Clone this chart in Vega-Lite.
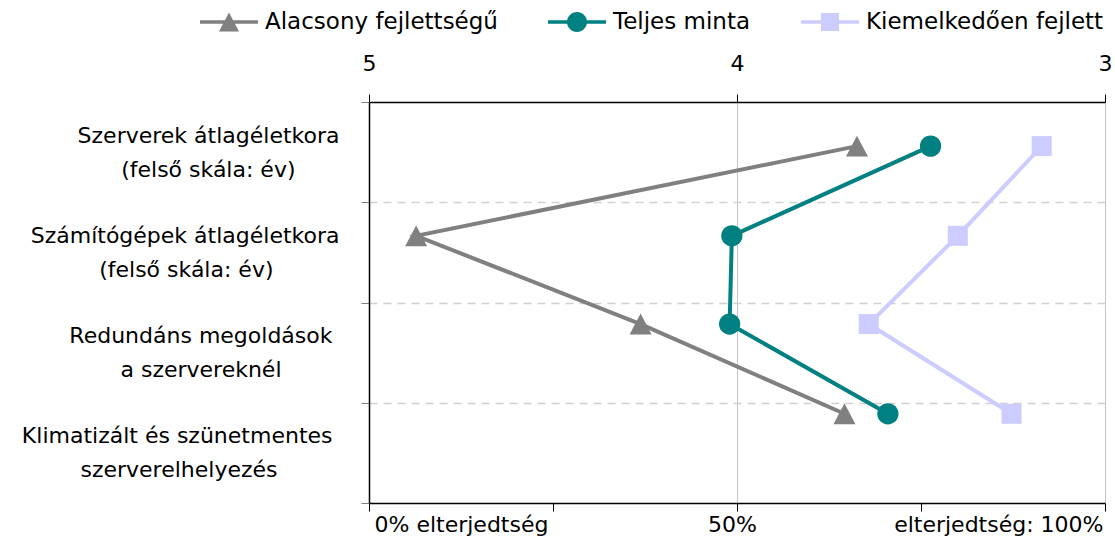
{
  "$schema": "https://vega.github.io/schema/vega-lite/v6.json",
  "width": 736,
  "height": 401,
  "autosize": {"type": "none"},
  "padding": {"left": 369, "top": 102, "right": 10, "bottom": 43},
  "background": "white",
  "config": {
    "view": {"stroke": null},
    "font": "DejaVu Sans",
    "axis": {"labelFont": "DejaVu Sans", "labelFontSize": 22, "labelColor": "#000000", "domainColor": "#000000", "tickColor": "#000000", "title": null, "labelLimit": 600, "labelOverlap": false},
    "legend": {"labelFont": "DejaVu Sans", "labelFontSize": 23, "labelColor": "#000000", "labelLimit": 600, "symbolSize": 3364, "symbolStrokeWidth": 0, "symbolOpacity": 1, "labelOffset": 7, "columnPadding": 50, "padding": 0}
  },
  "data": {
    "values": [
      {"series": "Alacsony fejlettségű", "pos": 0.44, "pct": 66.3},
      {"series": "Alacsony fejlettségű", "pos": 1.335, "pct": 6.4},
      {"series": "Alacsony fejlettségű", "pos": 2.215, "pct": 36.9},
      {"series": "Alacsony fejlettségű", "pos": 3.11, "pct": 64.6},
      {"series": "Teljes minta", "pos": 0.44, "pct": 76.3},
      {"series": "Teljes minta", "pos": 1.335, "pct": 49.3},
      {"series": "Teljes minta", "pos": 2.215, "pct": 49.0},
      {"series": "Teljes minta", "pos": 3.11, "pct": 70.5},
      {"series": "Kiemelkedően fejlett", "pos": 0.44, "pct": 91.4},
      {"series": "Kiemelkedően fejlett", "pos": 1.335, "pct": 80.0},
      {"series": "Kiemelkedően fejlett", "pos": 2.215, "pct": 67.9},
      {"series": "Kiemelkedően fejlett", "pos": 3.11, "pct": 87.3}
    ]
  },
  "layer": [
    {
      "layer": [
        {
          "transform": [{"filter": "datum.series == 'Alacsony fejlettségű'"}],
          "mark": {"type": "line", "strokeWidth": 4, "color": "#808080"},
          "encoding": {
            "x": {
              "field": "pct", "type": "quantitative",
              "scale": {"domain": [0, 100], "nice": false, "zero": false},
              "axis": {
                "orient": "bottom",
                "values": [0, 25, 50, 75, 100],
                "labelExpr": "datum.value == 0 ? '0% elterjedtség' : datum.value == 50 ? '50%' : datum.value == 100 ? 'elterjedtség: 100%' : ''",
                "labelFlush": false,
                "labelAlign": {"condition": [{"test": "datum.value == 0", "value": "left"}, {"test": "datum.value == 100", "value": "right"}], "value": "center"},
                "labelOffset": {"condition": [{"test": "datum.value == 0", "value": 5}, {"test": "datum.value == 100", "value": -2}], "value": -5},
                "labelPadding": 3,
                "tickSize": 8,
                "domainWidth": 1.5,
                "grid": true,
                "gridColor": "#c4c4c4",
                "gridWidth": 1,
                "gridOpacity": {"condition": {"test": "datum.value == 50 || datum.value == 100", "value": 1}, "value": 0}
              }
            },
            "y": {
              "field": "pos", "type": "quantitative",
              "scale": {"domain": [0, 4], "reverse": true, "nice": false, "zero": false},
              "axis": {
                "orient": "left",
                "values": [0, 1, 2, 3, 4],
                "labelExpr": "datum.value == 0 ? ['Szerverek átlagéletkora', '(felső skála: év)\u2002\u2002\u2002\u2002\u200b'] : datum.value == 1 ? ['Számítógépek átlagéletkora', '(felső skála: év)\u2002\u2002\u2002\u2002\u2002\u2002\u200b'] : datum.value == 2 ? ['Redundáns megoldások\u00a0\u200b', 'a szervereknél\u2002\u2002\u2002\u2002\u00a0\u00a0\u200b'] : datum.value == 3 ? ['Klimatizált és szünetmentes\u00a0\u200b', 'szerverelhelyezés\u2002\u2002\u2002\u2002\u2002\u00a0\u200b'] : ''",
                "labelAlign": "right",
                "labelBaseline": "middle",
                "labelLineHeight": 34,
                "labelOffset": 33,
                "labelFlush": false,
                "labelPadding": 22,
                "tickSize": 8,
                "tickColor": "#808080",
                "domainWidth": 1.5,
                "grid": true,
                "gridColor": "#d0d0d0",
                "gridWidth": 1.5,
                "gridDash": [8, 6],
                "gridOpacity": {"condition": {"test": "datum.value == 0 || datum.value == 4", "value": 0}, "value": 1}
              }
            },
            "order": {"field": "pos", "type": "quantitative"}
          }
        },
        {
          "transform": [{"filter": "datum.series == 'Teljes minta'"}],
          "mark": {"type": "line", "strokeWidth": 4, "color": "#008080"},
          "encoding": {
            "x": {"field": "pct", "type": "quantitative"},
            "y": {"field": "pos", "type": "quantitative"},
            "order": {"field": "pos", "type": "quantitative"}
          }
        },
        {
          "transform": [{"filter": "datum.series == 'Kiemelkedően fejlett'"}],
          "mark": {"type": "line", "strokeWidth": 4, "color": "#ccccff"},
          "encoding": {
            "x": {"field": "pct", "type": "quantitative"},
            "y": {"field": "pos", "type": "quantitative"},
            "order": {"field": "pos", "type": "quantitative"}
          }
        },
        {
          "transform": [{"filter": "datum.series == 'Alacsony fejlettségű'"}],
          "mark": {"type": "point", "filled": true, "opacity": 1, "shape": "M0,-0.95L1,0.95L-1,0.95Z", "size": 484, "color": "#808080", "strokeWidth": 0},
          "encoding": {
            "x": {"field": "pct", "type": "quantitative"},
            "y": {"field": "pos", "type": "quantitative"}
          }
        },
        {
          "transform": [{"filter": "datum.series == 'Teljes minta'"}],
          "mark": {"type": "point", "filled": true, "opacity": 1, "shape": "circle", "size": 452, "color": "#008080", "strokeWidth": 0},
          "encoding": {
            "x": {"field": "pct", "type": "quantitative"},
            "y": {"field": "pos", "type": "quantitative"}
          }
        },
        {
          "transform": [{"filter": "datum.series == 'Kiemelkedően fejlett'"}],
          "mark": {"type": "point", "filled": true, "opacity": 1, "shape": "square", "size": 400, "color": "#ccccff", "strokeWidth": 0},
          "encoding": {
            "x": {"field": "pct", "type": "quantitative"},
            "y": {"field": "pos", "type": "quantitative"}
          }
        }
      ]
    },
    {
      "mark": {"type": "point", "filled": true, "opacity": 0, "size": 3364},
      "encoding": {
        "x": {
          "field": "pct", "type": "quantitative",
          "axis": {
            "orient": "top",
            "values": [0, 50, 100],
            "labelExpr": "datum.value == 0 ? '5' : datum.value == 50 ? '4' : '3'",
            "labelFlush": false,
            "labelPadding": 19,
            "tickSize": 8,
            "domainWidth": 1.5,
            "grid": false
          }
        },
        "color": {
          "field": "series", "type": "nominal",
          "scale": {"domain": ["Alacsony fejlettségű", "Teljes minta", "Kiemelkedően fejlett"], "range": ["#808080", "#008080", "#ccccff"]},
          "legend": {"orient": "none", "direction": "horizontal", "legendX": -169, "legendY": -109, "title": null}
        },
        "shape": {
          "field": "series", "type": "nominal",
          "scale": {"domain": ["Alacsony fejlettségű", "Teljes minta", "Kiemelkedően fejlett"], "range": [
            "M-1,-0.057H1V0.057H-1Z M-0.345,0.33L0,-0.33L0.345,0.33Z",
            "M-1,-0.057H1V0.057H-1Z M-0.345,0A0.345,0.345 0 1,1 0.345,0A0.345,0.345 0 1,1 -0.345,0Z",
            "M-1,-0.057H1V0.057H-1Z M-0.31,-0.31H0.31V0.31H-0.31Z"
          ]},
          "legend": {"orient": "none", "direction": "horizontal", "legendX": -169, "legendY": -109, "title": null}
        }
      }
    }
  ],
  "resolve": {"axis": {"x": "independent"}}
}
